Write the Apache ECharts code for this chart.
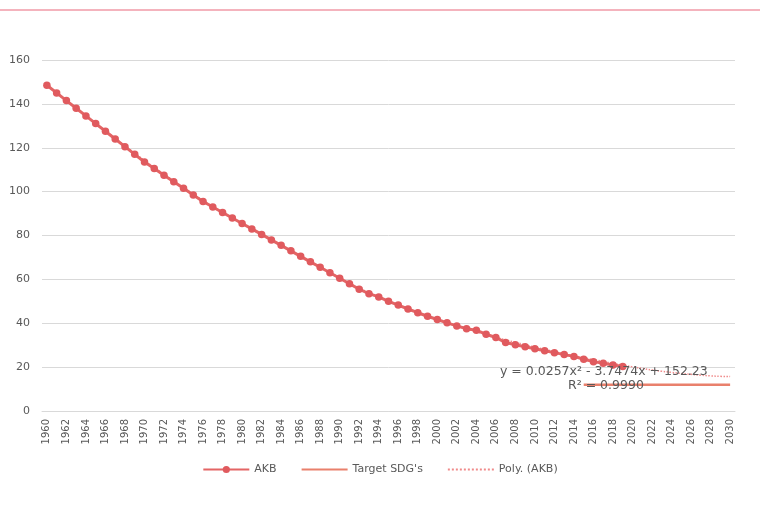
<!DOCTYPE html>
<html>
<head>
<meta charset="utf-8">
<script src="https://cdn.jsdelivr.net/npm/echarts@6/dist/echarts.min.js"></script>
<style>
html,body{margin:0;padding:0;background:#fff;}
#c{width:760px;height:524px;}
</style>
</head>
<body>
<div id="c"></div>
<script>
// Years 1960..2030
const years = [];
for (let y = 1960; y <= 2030; y++) years.push(String(y));

// AKB values (1960..2019)
const akbValues = [
  148.5, 145, 141.5, 138, 134.5, 131, 127.5, 124, 120.5, 117,
  113.5, 110.5, 107.5, 104.5, 101.5, 98.5, 95.5, 93, 90.5, 88,
  85.5, 83, 80.5, 78, 75.5, 73, 70.5, 68, 65.5, 63,
  60.5, 58, 55.5, 53.5, 52, 50, 48.3, 46.5, 44.8, 43.2,
  41.7, 40.2, 38.8, 37.5, 36.8, 35, 33.5, 31.2, 30.2, 29.3,
  28.4, 27.5, 26.6, 25.7, 24.9, 23.6, 22.5, 21.8, 21, 20.3
];

// Target SDG's (2015..2030)
const targetStartYear = 2015;
const targetValue = 12;

// Polynomial trend values (1960..2030)
const polyValues = [
  148.5, 144.9, 141.4, 137.9, 134.5, 131.1, 127.7, 124.3, 120.9, 117.5,
  114.2, 111.0, 107.9, 104.8, 101.8, 98.8, 95.9, 93.1, 90.4, 87.8,
  85.4, 82.9, 80.4, 77.9, 75.5, 73.0, 70.6, 68.1, 65.7, 63.2,
  60.7, 58.3, 56.0, 53.9, 51.9, 50.0, 48.2, 46.5, 44.8, 43.2,
  41.7, 40.2, 38.8, 37.4, 36.1, 34.8, 33.6, 32.4, 31.3, 30.2,
  29.1, 28.1, 27.1, 26.1, 25.2, 24.3, 23.4, 22.6, 21.7, 20.9,
  20.1, 19.4, 18.7, 18.1, 17.6, 17.1, 16.7, 16.3, 16.0, 15.8, 15.7
];

const yTicks = [0, 20, 40, 60, 80, 100, 120, 140, 160];

const equationText = 'y = 0.0257x² - 3.7474x + 152.23';
const r2Text = 'R² = 0.9990';

const akbData = years.map((y, i) => i < akbValues.length ? akbValues[i] : null);
const targetData = years.map(y => (+y >= targetStartYear ? targetValue : null));

const FONT = 'DejaVu Sans, Liberation Sans, Arial, sans-serif';

const chart = echarts.init(document.getElementById('c'), null, {renderer: 'canvas'});
chart.setOption({
  animation: false,
  backgroundColor: '#ffffff',
  textStyle: {fontFamily: FONT},
  grid: {left: 42, right: 25, top: 60, bottom: 113},
  legend: {
    bottom: 44,
    left: 'center',
    itemGap: 24,
    itemWidth: 46,
    itemHeight: 9,
    textStyle: {color: '#595959', fontSize: 11, fontFamily: FONT},
    data: [
      {name: 'AKB'},
      {name: "Target SDG's", itemStyle: {opacity: 0}},
      {name: 'Poly. (AKB)', itemStyle: {opacity: 0}}
    ]
  },
  xAxis: {
    type: 'category',
    data: years,
    boundaryGap: true,
    axisLine: {show: true, lineStyle: {color: '#d9d9d9'}},
    axisTick: {show: false},
    axisLabel: {
      interval: 1,
      rotate: 90,
      color: '#595959',
      fontSize: 10,
      margin: 8,
      fontFamily: FONT
    }
  },
  yAxis: {
    type: 'value',
    min: yTicks[0],
    max: yTicks[yTicks.length - 1],
    interval: 20,
    axisLine: {show: false},
    axisTick: {show: false},
    axisLabel: {color: '#595959', fontSize: 11, margin: 12, fontFamily: FONT},
    splitLine: {lineStyle: {color: '#d9d9d9', width: 1}}
  },
  series: [
    {
      name: 'Poly. (AKB)',
      type: 'line',
      data: polyValues,
      symbol: 'none',
      smooth: true,
      lineStyle: {color: '#f08a8a', width: 1.5, type: 'dotted'},
      itemStyle: {color: '#f08a8a'},
      z: 1
    },
    {
      name: "Target SDG's",
      type: 'line',
      data: targetData,
      symbol: 'none',
      lineStyle: {color: '#e9806c', width: 2.5},
      itemStyle: {color: '#e9806c'},
      z: 2
    },
    {
      name: 'AKB',
      type: 'line',
      data: akbData,
      symbol: 'circle',
      symbolSize: 7.5,
      showAllSymbol: true,
      lineStyle: {color: '#e46565', width: 3},
      itemStyle: {color: '#e05a5e'},
      z: 3
    }
  ],
  graphic: [
    {
      type: 'line',
      shape: {x1: 0, y1: 10, x2: 760, y2: 10},
      style: {stroke: '#f4b3bd', lineWidth: 2}
    },
    {
      type: 'text',
      left: 500,
      top: 365,
      z: 10,
      style: {text: equationText, fill: '#595959', fontSize: 12.5, fontFamily: FONT}
    },
    {
      type: 'text',
      left: 568,
      top: 379,
      z: 10,
      style: {text: r2Text, fill: '#595959', fontSize: 12.5, fontFamily: FONT}
    }
  ]
});
</script>
</body>
</html>
